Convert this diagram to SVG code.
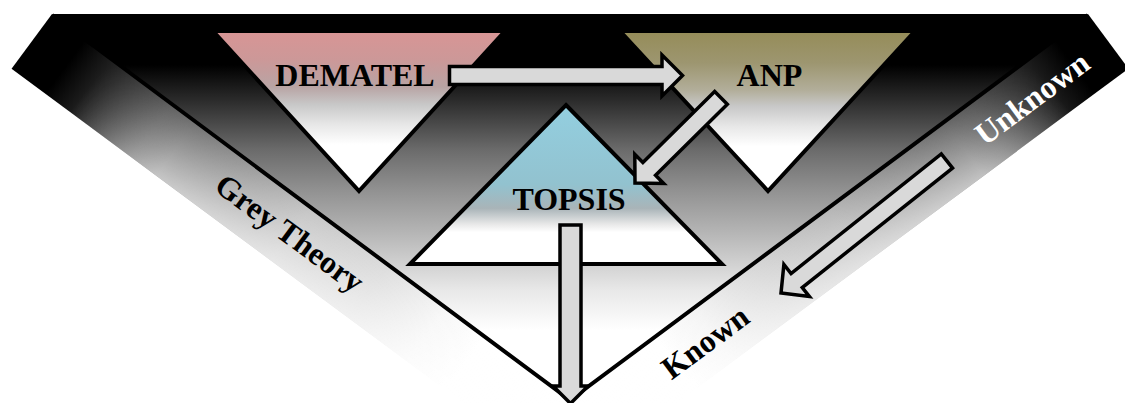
<svg xmlns="http://www.w3.org/2000/svg" width="1125" height="403" viewBox="0 0 1125 403">
  <defs>
    <linearGradient id="gV" gradientUnits="userSpaceOnUse" x1="0" y1="14" x2="0" y2="400">
      <stop offset="0" stop-color="#000"/>
      <stop offset="0.132" stop-color="#000"/>
      <stop offset="0.223" stop-color="#2b2b2b"/>
      <stop offset="0.352" stop-color="#6b6b6b"/>
      <stop offset="0.456" stop-color="#919191"/>
      <stop offset="0.56" stop-color="#b3b3b3"/>
      <stop offset="0.715" stop-color="#e8e8e8"/>
      <stop offset="0.82" stop-color="#fff"/>
      <stop offset="1" stop-color="#fff"/>
    </linearGradient>
    <!-- band gradients in band-local frame: x = along band, y = across band (0 at V line, 68 at outer edge) -->
    <linearGradient id="gAlongL" gradientUnits="userSpaceOnUse" x1="0" y1="0" x2="600" y2="0">
      <stop offset="0" stop-color="#000"/>
      <stop offset="0.07" stop-color="#000"/>
      <stop offset="0.25" stop-color="#5e5e5e"/>
      <stop offset="0.54" stop-color="#c4c4c4"/>
      <stop offset="0.7" stop-color="#dcdcdc"/>
      <stop offset="0.82" stop-color="#f7f7f7"/>
      <stop offset="0.9" stop-color="#fff"/>
    </linearGradient>
    <linearGradient id="gAlongR" gradientUnits="userSpaceOnUse" x1="0" y1="0" x2="600" y2="0">
      <stop offset="0" stop-color="#000"/>
      <stop offset="0.07" stop-color="#000"/>
      <stop offset="0.25" stop-color="#555"/>
      <stop offset="0.54" stop-color="#b4b4b4"/>
      <stop offset="0.7" stop-color="#d6d6d6"/>
      <stop offset="0.82" stop-color="#f4f4f4"/>
      <stop offset="0.9" stop-color="#fff"/>
    </linearGradient>
    <linearGradient id="gAcross" gradientUnits="userSpaceOnUse" x1="0" y1="0" x2="0" y2="68">
      <stop offset="0" stop-color="#fff" stop-opacity="0"/>
      <stop offset="1" stop-color="#fff" stop-opacity="0.6"/>
    </linearGradient>
    <linearGradient id="gMaskAlong" gradientUnits="userSpaceOnUse" x1="0" y1="0" x2="600" y2="0">
      <stop offset="0.12" stop-color="#000"/>
      <stop offset="0.3" stop-color="#fff"/>
    </linearGradient>
    <mask id="mAlong" maskUnits="userSpaceOnUse" x="-50" y="-50" width="800" height="200">
      <rect x="-50" y="-50" width="800" height="200" fill="url(#gMaskAlong)"/>
    </mask>
    <linearGradient id="gDem" x1="0" y1="0" x2="0" y2="1">
      <stop offset="0" stop-color="#d89595"/>
      <stop offset="0.18" stop-color="#cc9898"/>
      <stop offset="0.35" stop-color="#b8a4a4"/>
      <stop offset="0.46" stop-color="#c8c8c8"/>
      <stop offset="0.58" stop-color="#e6e6e6"/>
      <stop offset="0.71" stop-color="#fff"/>
      <stop offset="1" stop-color="#fff"/>
    </linearGradient>
    <linearGradient id="gAnp" x1="0" y1="0" x2="0" y2="1">
      <stop offset="0" stop-color="#958c58"/>
      <stop offset="0.2" stop-color="#9d9670"/>
      <stop offset="0.37" stop-color="#b2ae9a"/>
      <stop offset="0.47" stop-color="#c8c8c8"/>
      <stop offset="0.6" stop-color="#e8e8e8"/>
      <stop offset="0.72" stop-color="#fff"/>
      <stop offset="1" stop-color="#fff"/>
    </linearGradient>
    <linearGradient id="gTop" x1="0" y1="0" x2="0" y2="1">
      <stop offset="0" stop-color="#93cfe0"/>
      <stop offset="0.5" stop-color="#92c2cf"/>
      <stop offset="0.65" stop-color="#a9b4b8"/>
      <stop offset="0.75" stop-color="#e8e8e8"/>
      <stop offset="0.8" stop-color="#fff"/>
      <stop offset="1" stop-color="#fff"/>
    </linearGradient>
  </defs>
  <style>
    .tri { stroke: #000; stroke-width: 4; stroke-linejoin: miter; }
    .arrow { fill: #d9d9d9; stroke: #000; stroke-width: 3.5; stroke-linejoin: miter; stroke-miterlimit: 10; }
    .lbl { font-family: "Liberation Serif", "Times New Roman", serif; font-weight: bold; font-size: 32px; text-anchor: middle; fill: #000; }
    .band { font-family: "Liberation Serif", "Times New Roman", serif; font-weight: bold; font-size: 32px; text-anchor: middle; }
  </style>

  <g id="background">
    <g id="band-left" transform="translate(52,14) rotate(36.5)">
      <rect x="0" y="0" width="700" height="68" fill="url(#gAlongL)"/>
      <rect x="0" y="0" width="700" height="68" fill="url(#gAcross)" mask="url(#mAlong)"/>
    </g>
    <g id="band-right" transform="translate(1088,14) scale(-1,1) rotate(36.5)">
      <rect x="0" y="0" width="700" height="68" fill="url(#gAlongR)"/>
      <rect x="0" y="0" width="700" height="68" fill="url(#gAcross)" mask="url(#mAlong)"/>
    </g>
    <polygon id="v-shape" points="52,14 1088,14 570,400" fill="url(#gV)"/>
    <polyline points="52,15 570,400 1088,15" fill="none" stroke="#000" stroke-width="4"/>
  </g>

  <g id="node-dematel">
    <polygon class="tri" points="213,31 505,31 359,191" fill="url(#gDem)"/>
    <text class="lbl" x="355" y="86">DEMATEL</text>
  </g>

  <g id="node-anp">
    <polygon class="tri" points="620,31 915,31 768,191" fill="url(#gAnp)"/>
    <text class="lbl" x="769.5" y="86">ANP</text>
  </g>

  <g id="node-topsis">
    <polygon class="tri" points="566,105 722,264 410,264" fill="url(#gTop)"/>
    <text class="lbl" x="569" y="210">TOPSIS</text>
  </g>

  <g id="connectors">
    <path class="arrow" d="M449.5,66.5 H662 V55 L682.5,75.5 L662,96 V84.5 H449.5 Z"/>
    <path class="arrow" transform="translate(635,183) rotate(135.3)" d="M-121,-9 H-20 V-20.5 L0,0 L-20,20.5 V9 H-121 Z"/>
    <path class="arrow" d="M560,225 H581 V386 H588 L570.5,403.5 L553,386 H560 Z"/>
    <path class="arrow" transform="translate(781,293) rotate(141.5)" d="M-212,-9 H-20 V-20.5 L0,0 L-20,20.5 V9 H-212 Z"/>
  </g>

  <g id="label-grey-theory">
    <text class="band" transform="translate(290,233) rotate(36.5)" x="0" y="11" fill="#000">Grey Theory</text>
  </g>
  <g id="label-unknown">
    <text class="band" transform="translate(1032,98) rotate(-36.5)" x="0" y="11" fill="#fff">Unknown</text>
  </g>
  <g id="label-known">
    <text class="band" transform="translate(705,342) rotate(-36.5)" x="0" y="11" fill="#000">Known</text>
  </g>
</svg>
